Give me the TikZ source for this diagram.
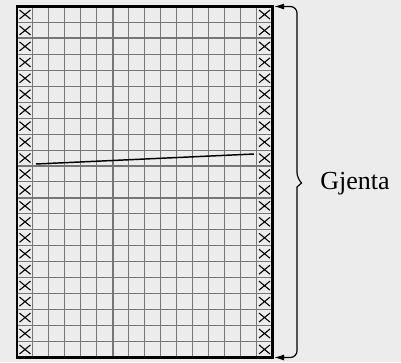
\documentclass[tikz,border=0pt]{standalone}
\usepackage{fontspec}
\setmainfont{Liberation Serif}
\usetikzlibrary{arrows.meta,calc,positioning}
\definecolor{PaperGray}{RGB}{236,236,236}
\definecolor{GridGray}{RGB}{118,118,118}

\begin{document}
\begin{tikzpicture}[x=.75pt,y=-.75pt,>={Latex[length=7.5pt,width=4.5pt]}]
\fill[PaperGray] (0,0) rectangle (401,362);\useasboundingbox (0,0) rectangle (401,362);
% grid: 16 columns, 22 rows
\foreach \i in {1,...,15} \draw[GridGray,line width=.8pt] (17+15.95*\i,6.5)--(17+15.95*\i,357.5);
\foreach \j in {1,...,21} \draw[GridGray,line width=.8pt] (17,6.5+15.95*\j)--(272.5,6.5+15.95*\j);
\draw[GridGray,line width=1.6pt] (17+15.95*6,6.5)--(17+15.95*6,357.5);
\draw[GridGray,line width=1.6pt] (17,6.5+15.95*2)--(272.5,6.5+15.95*2);\draw[GridGray,line width=1.6pt] (17,6.5+15.95*12)--(272.5,6.5+15.95*12);
% edge stitches
\foreach \j in {0,...,21} \foreach \cx in {25,264.5}
  \draw[line width=.8pt] (\cx-5.5,6.5+15.95*\j+3.5)--(\cx+5.5,6.5+15.95*\j+12.5) (\cx-5.5,6.5+15.95*\j+12.5)--(\cx+5.5,6.5+15.95*\j+3.5);
\draw[line width=2.2pt] (17,6.5) rectangle (272.5,357.5);
\coordinate (linestart) at (36,164);\coordinate (lineend) at (254,154);
\draw[line width=1.1pt] (linestart)--(lineend);
% repeat brace
\coordinate (bracetop) at (274,6.5);\coordinate (bracebot) at (274,357.5);
\node[anchor=west,inner sep=0,font=\fontsize{19.5}{22}\selectfont] (gjenta) at (320,184){Gjenta};
\draw[<->,line width=.9pt,rounded corners=5pt] (bracetop) -| (297,179) [sharp corners] -- (301.5,183) -- (297,187) [rounded corners=5pt] |- (bracebot);
\end{tikzpicture}
\end{document}
